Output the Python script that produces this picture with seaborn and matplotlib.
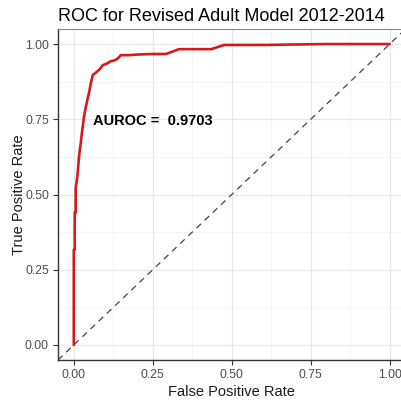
import matplotlib
matplotlib.use("Agg")
import matplotlib.pyplot as plt
import numpy as np
import pandas as pd
import seaborn as sns

# ROC curve points (false positive rate, true positive rate)
fpr = [0.0, 0.0, 0.003, 0.003, 0.006, 0.006, 0.010, 0.013, 0.016, 0.019, 0.022,
       0.025, 0.029, 0.032, 0.038, 0.044, 0.048, 0.054, 0.060, 0.070, 0.080,
       0.092, 0.105, 0.117, 0.127, 0.137, 0.149, 0.175, 0.200, 0.250, 0.292,
       0.333, 0.435, 0.476, 0.600, 0.800, 1.0]
tpr = [0.0, 0.316, 0.316, 0.44, 0.44, 0.52, 0.55, 0.58, 0.62, 0.648, 0.67,
       0.70, 0.73, 0.757, 0.79, 0.82, 0.837, 0.87, 0.897, 0.905, 0.914,
       0.93, 0.935, 0.943, 0.945, 0.95, 0.963, 0.963, 0.965, 0.967, 0.967,
       0.983, 0.983, 0.997, 0.997, 1.0, 1.0]
auroc = 0.9703

ticks = [0.0, 0.25, 0.5, 0.75, 1.0]
tick_labels = ["0.00", "0.25", "0.50", "0.75", "1.00"]
minor_ticks = [0.125, 0.375, 0.625, 0.875]

df = pd.DataFrame({"fpr": fpr, "tpr": tpr})

sns.set_theme(style="white")
plt.rcParams["font.family"] = ["Liberation Sans", "DejaVu Sans"]

fig = plt.figure(figsize=(4.02, 4.0), dpi=100)
ax = fig.add_axes([58 / 402, 40 / 400, 347.5 / 402, 331 / 400])

lo, hi = -0.05, 1.05
ax.set_xlim(lo, hi)
ax.set_ylim(lo, hi)

# grid
for t in minor_ticks:
    ax.axvline(t, color="#F3F3F3", lw=0.6, zorder=0)
    ax.axhline(t, color="#F3F3F3", lw=0.6, zorder=0)
for t in ticks:
    ax.axvline(t, color="#E8E8E8", lw=0.9, zorder=0)
    ax.axhline(t, color="#E8E8E8", lw=0.9, zorder=0)

# chance diagonal
ax.plot([lo, hi], [lo, hi], color="#444444", lw=0.9, ls=(0, (5, 4)), zorder=1)

sns.lineplot(data=df, x="fpr", y="tpr", sort=False, estimator=None,
             color="#D7191C", linewidth=1.9, ax=ax, zorder=2)

ax.text(0.25, 0.745, f"AUROC =  {auroc:.4f}", fontsize=10.5, fontweight="bold",
        ha="center", va="center", color="black")

ax.set_xticks(ticks)
ax.set_xticklabels(tick_labels)
ax.set_yticks(ticks)
ax.set_yticklabels(tick_labels)
ax.tick_params(axis="both", which="major", length=3.5, width=0.8, color="#333333",
               labelsize=8.8, labelcolor="#4D4D4D", pad=3, direction="out",
               bottom=True, left=True)

for side in ["left", "bottom"]:
    ax.spines[side].set_color("#333333")
    ax.spines[side].set_linewidth(1.0)
for side in ["top", "right"]:
    ax.spines[side].set_color("#8A8A8A")
    ax.spines[side].set_linewidth(0.8)

ax.set_xlabel("False Positive Rate", fontsize=10.5, color="#1A1A1A", labelpad=3)
ax.set_ylabel("True Positive Rate", fontsize=10.5, color="#1A1A1A", labelpad=-1)
ax.set_title("ROC for Revised Adult Model 2012-2014", fontsize=13, loc="left",
             color="black", pad=6)

fig.savefig("out.png", dpi=100)
